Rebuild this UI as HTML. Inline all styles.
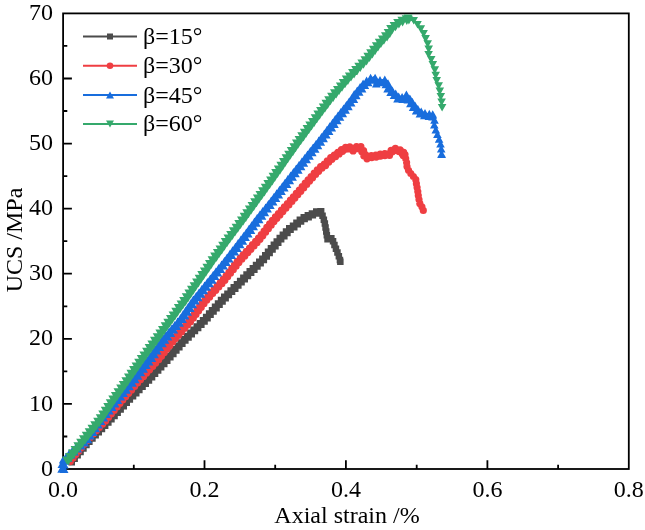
<!DOCTYPE html>
<html><head><meta charset="utf-8"><style>html,body{margin:0;padding:0;background:#fff;width:645px;height:530px;overflow:hidden}svg{display:block;filter:blur(0.4px)}</style></head>
<body>
<svg width="645" height="530" viewBox="0 0 645 530">
<rect width="645" height="530" fill="#fff"/>
<rect x="63.1" y="13.4" width="565.7" height="455.6" fill="none" stroke="#000" stroke-width="1.8"/>
<path d="M133.8 469v-4.2M204.5 469v-8.8M275.2 469v-4.2M345.9 469v-8.8M416.7 469v-4.2M487.4 469v-8.8M558.1 469v-4.2M63.1 436.5h4.2M63.1 403.9h8.8M63.1 371.4h4.2M63.1 338.8h8.8M63.1 306.3h4.2M63.1 273.7h8.8M63.1 241.2h4.2M63.1 208.7h8.8M63.1 176.1h4.2M63.1 143.6h8.8M63.1 111h4.2M63.1 78.5h8.8M63.1 45.9h4.2" stroke="#000" stroke-width="1.8" fill="none"/>
<polyline points="71,461.5 89.5,440 109.5,420 128,400 148,380 166.5,360 184.5,340 204.7,320 222.5,300 242.5,280 262.5,260 280,239.1 285,234 290,228.9 295,225.5 300,221 305,217.6 310,215.6 315,213.3 318.5,211.5 320.8,212.3 323.2,217.2 325.1,224.5 326.3,231.9 327.5,239.3 331.8,238 333.7,243 336.1,249.1 338.6,255.2 340.4,261.7" fill="none" stroke="#4b4b4b" stroke-width="2" stroke-linejoin="round"/>
<path d="M67 457.6h6.5v6.5h-6.5zM68.5 458.9h6.5v6.5h-6.5zM69.9 454.2h6.5v6.5h-6.5zM71.4 455.5h6.5v6.5h-6.5zM72.9 450.8h6.5v6.5h-6.5zM74.4 452.1h6.5v6.5h-6.5zM75.8 447.4h6.5v6.5h-6.5zM77.3 448.7h6.5v6.5h-6.5zM78.7 444h6.5v6.5h-6.5zM80.2 445.3h6.5v6.5h-6.5zM81.7 440.5h6.5v6.5h-6.5zM83.2 441.8h6.5v6.5h-6.5zM84.6 437.1h6.5v6.5h-6.5zM86.1 438.5h6.5v6.5h-6.5zM87.8 433.8h6.5v6.5h-6.5zM89.2 435.2h6.5v6.5h-6.5zM90.9 430.6h6.5v6.5h-6.5zM92.4 432.1h6.5v6.5h-6.5zM94.1 427.5h6.5v6.5h-6.5zM95.5 428.9h6.5v6.5h-6.5zM97.3 424.3h6.5v6.5h-6.5zM98.7 425.7h6.5v6.5h-6.5zM100.5 421.1h6.5v6.5h-6.5zM101.9 422.5h6.5v6.5h-6.5zM103.7 417.9h6.5v6.5h-6.5zM105.1 419.3h6.5v6.5h-6.5zM106.8 414.7h6.5v6.5h-6.5zM108.2 416.1h6.5v6.5h-6.5zM109.8 411.4h6.5v6.5h-6.5zM111.3 412.8h6.5v6.5h-6.5zM112.9 408.1h6.5v6.5h-6.5zM114.4 409.5h6.5v6.5h-6.5zM115.9 404.8h6.5v6.5h-6.5zM117.4 406.2h6.5v6.5h-6.5zM119 401.5h6.5v6.5h-6.5zM120.5 402.9h6.5v6.5h-6.5zM122.1 398.2h6.5v6.5h-6.5zM123.5 399.6h6.5v6.5h-6.5zM125.2 394.9h6.5v6.5h-6.5zM126.6 396.3h6.5v6.5h-6.5zM128.4 391.7h6.5v6.5h-6.5zM129.8 393.1h6.5v6.5h-6.5zM131.5 388.5h6.5v6.5h-6.5zM133 390h6.5v6.5h-6.5zM134.7 385.4h6.5v6.5h-6.5zM136.1 386.8h6.5v6.5h-6.5zM137.9 382.2h6.5v6.5h-6.5zM139.3 383.6h6.5v6.5h-6.5zM141.1 379h6.5v6.5h-6.5zM142.5 380.4h6.5v6.5h-6.5zM144.2 375.8h6.5v6.5h-6.5zM145.7 377.2h6.5v6.5h-6.5zM147.3 372.5h6.5v6.5h-6.5zM148.8 373.9h6.5v6.5h-6.5zM150.3 369.2h6.5v6.5h-6.5zM151.8 370.6h6.5v6.5h-6.5zM153.4 365.9h6.5v6.5h-6.5zM154.9 367.3h6.5v6.5h-6.5zM156.5 362.6h6.5v6.5h-6.5zM157.9 364h6.5v6.5h-6.5zM159.5 359.3h6.5v6.5h-6.5zM161 360.7h6.5v6.5h-6.5zM162.6 356h6.5v6.5h-6.5zM164 357.4h6.5v6.5h-6.5zM165.6 352.7h6.5v6.5h-6.5zM167.1 354h6.5v6.5h-6.5zM168.6 349.3h6.5v6.5h-6.5zM170.1 350.7h6.5v6.5h-6.5zM171.6 346h6.5v6.5h-6.5zM173.1 347.3h6.5v6.5h-6.5zM174.6 342.6h6.5v6.5h-6.5zM176.1 344h6.5v6.5h-6.5zM177.6 339.3h6.5v6.5h-6.5zM179.1 340.6h6.5v6.5h-6.5zM180.6 335.9h6.5v6.5h-6.5zM182.1 337.3h6.5v6.5h-6.5zM183.9 332.8h6.5v6.5h-6.5zM185.3 334.2h6.5v6.5h-6.5zM187.1 329.6h6.5v6.5h-6.5zM188.5 331h6.5v6.5h-6.5zM190.3 326.4h6.5v6.5h-6.5zM191.7 327.8h6.5v6.5h-6.5zM193.5 323.3h6.5v6.5h-6.5zM194.9 324.7h6.5v6.5h-6.5zM196.7 320.1h6.5v6.5h-6.5zM198.1 321.5h6.5v6.5h-6.5zM199.8 316.9h6.5v6.5h-6.5zM201.3 318.3h6.5v6.5h-6.5zM202.9 313.7h6.5v6.5h-6.5zM204.3 315h6.5v6.5h-6.5zM205.9 310.3h6.5v6.5h-6.5zM207.3 311.6h6.5v6.5h-6.5zM208.8 306.9h6.5v6.5h-6.5zM210.3 308.3h6.5v6.5h-6.5zM211.8 303.6h6.5v6.5h-6.5zM213.3 304.9h6.5v6.5h-6.5zM214.8 300.2h6.5v6.5h-6.5zM216.3 301.5h6.5v6.5h-6.5zM217.8 296.8h6.5v6.5h-6.5zM219.3 298.2h6.5v6.5h-6.5zM221 293.6h6.5v6.5h-6.5zM222.4 295h6.5v6.5h-6.5zM224.2 290.4h6.5v6.5h-6.5zM225.6 291.8h6.5v6.5h-6.5zM227.4 287.2h6.5v6.5h-6.5zM228.8 288.6h6.5v6.5h-6.5zM230.5 284h6.5v6.5h-6.5zM232 285.5h6.5v6.5h-6.5zM233.7 280.9h6.5v6.5h-6.5zM235.1 282.3h6.5v6.5h-6.5zM236.9 277.7h6.5v6.5h-6.5zM238.3 279.1h6.5v6.5h-6.5zM240.1 274.5h6.5v6.5h-6.5zM241.5 275.9h6.5v6.5h-6.5zM243.3 271.3h6.5v6.5h-6.5zM244.7 272.7h6.5v6.5h-6.5zM246.5 268.1h6.5v6.5h-6.5zM247.9 269.5h6.5v6.5h-6.5zM249.6 264.9h6.5v6.5h-6.5zM251.1 266.4h6.5v6.5h-6.5zM252.8 261.8h6.5v6.5h-6.5zM254.2 263.2h6.5v6.5h-6.5zM256 258.6h6.5v6.5h-6.5zM257.4 260h6.5v6.5h-6.5zM259.1 255.4h6.5v6.5h-6.5zM260.6 256.7h6.5v6.5h-6.5zM262 252h6.5v6.5h-6.5zM263.5 253.2h6.5v6.5h-6.5zM264.8 248.5h6.5v6.5h-6.5zM266.4 249.8h6.5v6.5h-6.5zM267.7 245.1h6.5v6.5h-6.5zM269.3 246.3h6.5v6.5h-6.5zM270.6 241.6h6.5v6.5h-6.5zM272.2 242.9h6.5v6.5h-6.5zM273.5 238.2h6.5v6.5h-6.5zM275 239.5h6.5v6.5h-6.5zM276.5 234.7h6.5v6.5h-6.5zM277.9 236.1h6.5v6.5h-6.5zM279.6 231.5h6.5v6.5h-6.5zM281.1 232.9h6.5v6.5h-6.5zM282.8 228.3h6.5v6.5h-6.5zM284.2 229.7h6.5v6.5h-6.5zM286 225h6.5v6.5h-6.5zM287.3 226.5h6.5v6.5h-6.5zM289.8 222.4h6.5v6.5h-6.5zM291 224h6.5v6.5h-6.5zM293.2 219.6h6.5v6.5h-6.5zM294.5 221.1h6.5v6.5h-6.5zM296.6 216.6h6.5v6.5h-6.5zM297.8 218.2h6.5v6.5h-6.5zM300.5 214h6.5v6.5h-6.5zM301.4 215.8h6.5v6.5h-6.5zM304.6 212.1h6.5v6.5h-6.5zM305.4 213.9h6.5v6.5h-6.5zM308.7 210.3h6.5v6.5h-6.5zM309.6 212.1h6.5v6.5h-6.5zM313 208.3h6.5v6.5h-6.5zM313.5 210.3h6.5v6.5h-6.5zM317.3 208h6.5v6.5h-6.5zM317.4 210h6.5v6.5h-6.5zM317.9 208.1h6.5v6.5h-6.5zM317.2 210h6.5v6.5h-6.5zM317.6 209.1h6.5v6.5h-6.5zM319.3 212.6h6.5v6.5h-6.5zM320.6 216.4h6.5v6.5h-6.5zM321.6 220.3h6.5v6.5h-6.5zM322.3 224.2h6.5v6.5h-6.5zM323 228.2h6.5v6.5h-6.5zM323.6 232.1h6.5v6.5h-6.5zM324.3 236h6.5v6.5h-6.5zM328.1 234.9h6.5v6.5h-6.5zM329.8 238h6.5v6.5h-6.5zM331.2 241.8h6.5v6.5h-6.5zM332.7 245.5h6.5v6.5h-6.5zM334.2 249.2h6.5v6.5h-6.5zM335.6 252.9h6.5v6.5h-6.5zM336.7 256.8h6.5v6.5h-6.5zM337.1 258.4h6.5v6.5h-6.5z" fill="#4b4b4b"/>
<polyline points="69.5,461 86.5,440 105,420 121.5,400 138.9,380 157.2,360 173,340 190.7,320 205.5,300 223.9,280 239.7,260 258.2,240 274,220 291.9,200 309.3,180 315.6,173 321,167.6 325,164.8 328.9,160.5 332.8,157.2 336.6,154.8 340.5,151.3 344.4,149.2 348.3,146.7 352.1,150.2 355.2,149.3 358.3,146.2 361.4,148.2 363.8,153.6 366.1,158.2 370,156.8 375.4,156.2 380.1,155.2 384,154.5 388.6,155.2 392.5,150 394.8,149 397.9,150.5 401.8,151.2 404.1,155.1 406.4,160.2 406.9,166.2 409,171.4 412.7,175.6 415.8,179.7 416.8,186 417.9,192.2 418.7,198.4 419.9,203.6 422.5,207.8 423.3,210.4" fill="none" stroke="#ef3e42" stroke-width="2" stroke-linejoin="round"/>
<path d="M65.1 460.4a3.6 3.6 0 1 0 7.2 0a3.6 3.6 0 1 0 -7.2 0zM66.7 461.6a3.6 3.6 0 1 0 7.2 0a3.6 3.6 0 1 0 -7.2 0zM68 456.9a3.6 3.6 0 1 0 7.2 0a3.6 3.6 0 1 0 -7.2 0zM69.5 458.1a3.6 3.6 0 1 0 7.2 0a3.6 3.6 0 1 0 -7.2 0zM70.8 453.4a3.6 3.6 0 1 0 7.2 0a3.6 3.6 0 1 0 -7.2 0zM72.3 454.6a3.6 3.6 0 1 0 7.2 0a3.6 3.6 0 1 0 -7.2 0zM73.6 449.9a3.6 3.6 0 1 0 7.2 0a3.6 3.6 0 1 0 -7.2 0zM75.2 451.1a3.6 3.6 0 1 0 7.2 0a3.6 3.6 0 1 0 -7.2 0zM76.4 446.4a3.6 3.6 0 1 0 7.2 0a3.6 3.6 0 1 0 -7.2 0zM78 447.6a3.6 3.6 0 1 0 7.2 0a3.6 3.6 0 1 0 -7.2 0zM79.3 442.9a3.6 3.6 0 1 0 7.2 0a3.6 3.6 0 1 0 -7.2 0zM80.8 444.1a3.6 3.6 0 1 0 7.2 0a3.6 3.6 0 1 0 -7.2 0zM82.1 439.4a3.6 3.6 0 1 0 7.2 0a3.6 3.6 0 1 0 -7.2 0zM83.6 440.7a3.6 3.6 0 1 0 7.2 0a3.6 3.6 0 1 0 -7.2 0zM85.2 436a3.6 3.6 0 1 0 7.2 0a3.6 3.6 0 1 0 -7.2 0zM86.7 437.4a3.6 3.6 0 1 0 7.2 0a3.6 3.6 0 1 0 -7.2 0zM88.3 432.7a3.6 3.6 0 1 0 7.2 0a3.6 3.6 0 1 0 -7.2 0zM89.7 434.1a3.6 3.6 0 1 0 7.2 0a3.6 3.6 0 1 0 -7.2 0zM91.3 429.4a3.6 3.6 0 1 0 7.2 0a3.6 3.6 0 1 0 -7.2 0zM92.8 430.8a3.6 3.6 0 1 0 7.2 0a3.6 3.6 0 1 0 -7.2 0zM94.4 426.1a3.6 3.6 0 1 0 7.2 0a3.6 3.6 0 1 0 -7.2 0zM95.8 427.5a3.6 3.6 0 1 0 7.2 0a3.6 3.6 0 1 0 -7.2 0zM97.4 422.8a3.6 3.6 0 1 0 7.2 0a3.6 3.6 0 1 0 -7.2 0zM98.9 424.2a3.6 3.6 0 1 0 7.2 0a3.6 3.6 0 1 0 -7.2 0zM100.5 419.5a3.6 3.6 0 1 0 7.2 0a3.6 3.6 0 1 0 -7.2 0zM102 420.9a3.6 3.6 0 1 0 7.2 0a3.6 3.6 0 1 0 -7.2 0zM103.3 416.1a3.6 3.6 0 1 0 7.2 0a3.6 3.6 0 1 0 -7.2 0zM104.9 417.4a3.6 3.6 0 1 0 7.2 0a3.6 3.6 0 1 0 -7.2 0zM106.2 412.6a3.6 3.6 0 1 0 7.2 0a3.6 3.6 0 1 0 -7.2 0zM107.7 413.9a3.6 3.6 0 1 0 7.2 0a3.6 3.6 0 1 0 -7.2 0zM109.1 409.2a3.6 3.6 0 1 0 7.2 0a3.6 3.6 0 1 0 -7.2 0zM110.6 410.4a3.6 3.6 0 1 0 7.2 0a3.6 3.6 0 1 0 -7.2 0zM111.9 405.7a3.6 3.6 0 1 0 7.2 0a3.6 3.6 0 1 0 -7.2 0zM113.5 407a3.6 3.6 0 1 0 7.2 0a3.6 3.6 0 1 0 -7.2 0zM114.8 402.2a3.6 3.6 0 1 0 7.2 0a3.6 3.6 0 1 0 -7.2 0zM116.3 403.5a3.6 3.6 0 1 0 7.2 0a3.6 3.6 0 1 0 -7.2 0zM117.7 398.7a3.6 3.6 0 1 0 7.2 0a3.6 3.6 0 1 0 -7.2 0zM119.2 400a3.6 3.6 0 1 0 7.2 0a3.6 3.6 0 1 0 -7.2 0zM120.6 395.3a3.6 3.6 0 1 0 7.2 0a3.6 3.6 0 1 0 -7.2 0zM122.1 396.7a3.6 3.6 0 1 0 7.2 0a3.6 3.6 0 1 0 -7.2 0zM123.6 391.9a3.6 3.6 0 1 0 7.2 0a3.6 3.6 0 1 0 -7.2 0zM125.1 393.3a3.6 3.6 0 1 0 7.2 0a3.6 3.6 0 1 0 -7.2 0zM126.5 388.5a3.6 3.6 0 1 0 7.2 0a3.6 3.6 0 1 0 -7.2 0zM128 389.9a3.6 3.6 0 1 0 7.2 0a3.6 3.6 0 1 0 -7.2 0zM129.5 385.2a3.6 3.6 0 1 0 7.2 0a3.6 3.6 0 1 0 -7.2 0zM131 386.5a3.6 3.6 0 1 0 7.2 0a3.6 3.6 0 1 0 -7.2 0zM132.4 381.8a3.6 3.6 0 1 0 7.2 0a3.6 3.6 0 1 0 -7.2 0zM134 383.1a3.6 3.6 0 1 0 7.2 0a3.6 3.6 0 1 0 -7.2 0zM135.4 378.4a3.6 3.6 0 1 0 7.2 0a3.6 3.6 0 1 0 -7.2 0zM136.9 379.7a3.6 3.6 0 1 0 7.2 0a3.6 3.6 0 1 0 -7.2 0zM138.5 375a3.6 3.6 0 1 0 7.2 0a3.6 3.6 0 1 0 -7.2 0zM140 376.4a3.6 3.6 0 1 0 7.2 0a3.6 3.6 0 1 0 -7.2 0zM141.5 371.7a3.6 3.6 0 1 0 7.2 0a3.6 3.6 0 1 0 -7.2 0zM143 373.1a3.6 3.6 0 1 0 7.2 0a3.6 3.6 0 1 0 -7.2 0zM144.6 368.4a3.6 3.6 0 1 0 7.2 0a3.6 3.6 0 1 0 -7.2 0zM146 369.8a3.6 3.6 0 1 0 7.2 0a3.6 3.6 0 1 0 -7.2 0zM147.6 365.1a3.6 3.6 0 1 0 7.2 0a3.6 3.6 0 1 0 -7.2 0zM149.1 366.4a3.6 3.6 0 1 0 7.2 0a3.6 3.6 0 1 0 -7.2 0zM150.6 361.8a3.6 3.6 0 1 0 7.2 0a3.6 3.6 0 1 0 -7.2 0zM152.1 363.1a3.6 3.6 0 1 0 7.2 0a3.6 3.6 0 1 0 -7.2 0zM153.6 358.4a3.6 3.6 0 1 0 7.2 0a3.6 3.6 0 1 0 -7.2 0zM155.1 359.7a3.6 3.6 0 1 0 7.2 0a3.6 3.6 0 1 0 -7.2 0zM156.3 354.9a3.6 3.6 0 1 0 7.2 0a3.6 3.6 0 1 0 -7.2 0zM157.9 356.2a3.6 3.6 0 1 0 7.2 0a3.6 3.6 0 1 0 -7.2 0zM159.1 351.4a3.6 3.6 0 1 0 7.2 0a3.6 3.6 0 1 0 -7.2 0zM160.7 352.6a3.6 3.6 0 1 0 7.2 0a3.6 3.6 0 1 0 -7.2 0zM161.9 347.9a3.6 3.6 0 1 0 7.2 0a3.6 3.6 0 1 0 -7.2 0zM163.5 349.1a3.6 3.6 0 1 0 7.2 0a3.6 3.6 0 1 0 -7.2 0zM164.7 344.3a3.6 3.6 0 1 0 7.2 0a3.6 3.6 0 1 0 -7.2 0zM166.3 345.6a3.6 3.6 0 1 0 7.2 0a3.6 3.6 0 1 0 -7.2 0zM167.5 340.8a3.6 3.6 0 1 0 7.2 0a3.6 3.6 0 1 0 -7.2 0zM169.1 342a3.6 3.6 0 1 0 7.2 0a3.6 3.6 0 1 0 -7.2 0zM170.4 337.3a3.6 3.6 0 1 0 7.2 0a3.6 3.6 0 1 0 -7.2 0zM171.9 338.6a3.6 3.6 0 1 0 7.2 0a3.6 3.6 0 1 0 -7.2 0zM173.4 333.9a3.6 3.6 0 1 0 7.2 0a3.6 3.6 0 1 0 -7.2 0zM174.9 335.3a3.6 3.6 0 1 0 7.2 0a3.6 3.6 0 1 0 -7.2 0zM176.4 330.6a3.6 3.6 0 1 0 7.2 0a3.6 3.6 0 1 0 -7.2 0zM177.9 331.9a3.6 3.6 0 1 0 7.2 0a3.6 3.6 0 1 0 -7.2 0zM179.4 327.2a3.6 3.6 0 1 0 7.2 0a3.6 3.6 0 1 0 -7.2 0zM180.9 328.5a3.6 3.6 0 1 0 7.2 0a3.6 3.6 0 1 0 -7.2 0zM182.4 323.8a3.6 3.6 0 1 0 7.2 0a3.6 3.6 0 1 0 -7.2 0zM183.9 325.2a3.6 3.6 0 1 0 7.2 0a3.6 3.6 0 1 0 -7.2 0zM185.3 320.5a3.6 3.6 0 1 0 7.2 0a3.6 3.6 0 1 0 -7.2 0zM186.9 321.8a3.6 3.6 0 1 0 7.2 0a3.6 3.6 0 1 0 -7.2 0zM188.1 317a3.6 3.6 0 1 0 7.2 0a3.6 3.6 0 1 0 -7.2 0zM189.7 318.2a3.6 3.6 0 1 0 7.2 0a3.6 3.6 0 1 0 -7.2 0zM190.8 313.4a3.6 3.6 0 1 0 7.2 0a3.6 3.6 0 1 0 -7.2 0zM192.4 314.6a3.6 3.6 0 1 0 7.2 0a3.6 3.6 0 1 0 -7.2 0zM193.4 309.8a3.6 3.6 0 1 0 7.2 0a3.6 3.6 0 1 0 -7.2 0zM195 311a3.6 3.6 0 1 0 7.2 0a3.6 3.6 0 1 0 -7.2 0zM196.1 306.1a3.6 3.6 0 1 0 7.2 0a3.6 3.6 0 1 0 -7.2 0zM197.7 307.3a3.6 3.6 0 1 0 7.2 0a3.6 3.6 0 1 0 -7.2 0zM198.8 302.5a3.6 3.6 0 1 0 7.2 0a3.6 3.6 0 1 0 -7.2 0zM200.4 303.7a3.6 3.6 0 1 0 7.2 0a3.6 3.6 0 1 0 -7.2 0zM201.6 298.9a3.6 3.6 0 1 0 7.2 0a3.6 3.6 0 1 0 -7.2 0zM203.1 300.2a3.6 3.6 0 1 0 7.2 0a3.6 3.6 0 1 0 -7.2 0zM204.6 295.6a3.6 3.6 0 1 0 7.2 0a3.6 3.6 0 1 0 -7.2 0zM206.1 296.9a3.6 3.6 0 1 0 7.2 0a3.6 3.6 0 1 0 -7.2 0zM207.7 292.2a3.6 3.6 0 1 0 7.2 0a3.6 3.6 0 1 0 -7.2 0zM209.1 293.6a3.6 3.6 0 1 0 7.2 0a3.6 3.6 0 1 0 -7.2 0zM210.7 288.9a3.6 3.6 0 1 0 7.2 0a3.6 3.6 0 1 0 -7.2 0zM212.2 290.3a3.6 3.6 0 1 0 7.2 0a3.6 3.6 0 1 0 -7.2 0zM213.8 285.6a3.6 3.6 0 1 0 7.2 0a3.6 3.6 0 1 0 -7.2 0zM215.2 287a3.6 3.6 0 1 0 7.2 0a3.6 3.6 0 1 0 -7.2 0zM216.8 282.3a3.6 3.6 0 1 0 7.2 0a3.6 3.6 0 1 0 -7.2 0zM218.3 283.7a3.6 3.6 0 1 0 7.2 0a3.6 3.6 0 1 0 -7.2 0zM219.8 279a3.6 3.6 0 1 0 7.2 0a3.6 3.6 0 1 0 -7.2 0zM221.3 280.3a3.6 3.6 0 1 0 7.2 0a3.6 3.6 0 1 0 -7.2 0zM222.6 275.5a3.6 3.6 0 1 0 7.2 0a3.6 3.6 0 1 0 -7.2 0zM224.1 276.7a3.6 3.6 0 1 0 7.2 0a3.6 3.6 0 1 0 -7.2 0zM225.4 272a3.6 3.6 0 1 0 7.2 0a3.6 3.6 0 1 0 -7.2 0zM226.9 273.2a3.6 3.6 0 1 0 7.2 0a3.6 3.6 0 1 0 -7.2 0zM228.2 268.4a3.6 3.6 0 1 0 7.2 0a3.6 3.6 0 1 0 -7.2 0zM229.7 269.7a3.6 3.6 0 1 0 7.2 0a3.6 3.6 0 1 0 -7.2 0zM230.9 264.9a3.6 3.6 0 1 0 7.2 0a3.6 3.6 0 1 0 -7.2 0zM232.5 266.2a3.6 3.6 0 1 0 7.2 0a3.6 3.6 0 1 0 -7.2 0zM233.7 261.4a3.6 3.6 0 1 0 7.2 0a3.6 3.6 0 1 0 -7.2 0zM235.3 262.6a3.6 3.6 0 1 0 7.2 0a3.6 3.6 0 1 0 -7.2 0zM236.7 257.9a3.6 3.6 0 1 0 7.2 0a3.6 3.6 0 1 0 -7.2 0zM238.2 259.2a3.6 3.6 0 1 0 7.2 0a3.6 3.6 0 1 0 -7.2 0zM239.7 254.6a3.6 3.6 0 1 0 7.2 0a3.6 3.6 0 1 0 -7.2 0zM241.2 255.9a3.6 3.6 0 1 0 7.2 0a3.6 3.6 0 1 0 -7.2 0zM242.8 251.3a3.6 3.6 0 1 0 7.2 0a3.6 3.6 0 1 0 -7.2 0zM244.3 252.6a3.6 3.6 0 1 0 7.2 0a3.6 3.6 0 1 0 -7.2 0zM245.9 248a3.6 3.6 0 1 0 7.2 0a3.6 3.6 0 1 0 -7.2 0zM247.3 249.3a3.6 3.6 0 1 0 7.2 0a3.6 3.6 0 1 0 -7.2 0zM248.9 244.7a3.6 3.6 0 1 0 7.2 0a3.6 3.6 0 1 0 -7.2 0zM250.4 246a3.6 3.6 0 1 0 7.2 0a3.6 3.6 0 1 0 -7.2 0zM252 241.4a3.6 3.6 0 1 0 7.2 0a3.6 3.6 0 1 0 -7.2 0zM253.4 242.7a3.6 3.6 0 1 0 7.2 0a3.6 3.6 0 1 0 -7.2 0zM254.9 238a3.6 3.6 0 1 0 7.2 0a3.6 3.6 0 1 0 -7.2 0zM256.4 239.3a3.6 3.6 0 1 0 7.2 0a3.6 3.6 0 1 0 -7.2 0zM257.7 234.5a3.6 3.6 0 1 0 7.2 0a3.6 3.6 0 1 0 -7.2 0zM259.2 235.8a3.6 3.6 0 1 0 7.2 0a3.6 3.6 0 1 0 -7.2 0zM260.5 231a3.6 3.6 0 1 0 7.2 0a3.6 3.6 0 1 0 -7.2 0zM262 232.2a3.6 3.6 0 1 0 7.2 0a3.6 3.6 0 1 0 -7.2 0zM263.2 227.4a3.6 3.6 0 1 0 7.2 0a3.6 3.6 0 1 0 -7.2 0zM264.8 228.7a3.6 3.6 0 1 0 7.2 0a3.6 3.6 0 1 0 -7.2 0zM266 223.9a3.6 3.6 0 1 0 7.2 0a3.6 3.6 0 1 0 -7.2 0zM267.6 225.2a3.6 3.6 0 1 0 7.2 0a3.6 3.6 0 1 0 -7.2 0zM268.8 220.4a3.6 3.6 0 1 0 7.2 0a3.6 3.6 0 1 0 -7.2 0zM270.4 221.6a3.6 3.6 0 1 0 7.2 0a3.6 3.6 0 1 0 -7.2 0zM271.8 216.9a3.6 3.6 0 1 0 7.2 0a3.6 3.6 0 1 0 -7.2 0zM273.3 218.3a3.6 3.6 0 1 0 7.2 0a3.6 3.6 0 1 0 -7.2 0zM274.8 213.6a3.6 3.6 0 1 0 7.2 0a3.6 3.6 0 1 0 -7.2 0zM276.3 214.9a3.6 3.6 0 1 0 7.2 0a3.6 3.6 0 1 0 -7.2 0zM277.8 210.2a3.6 3.6 0 1 0 7.2 0a3.6 3.6 0 1 0 -7.2 0zM279.3 211.6a3.6 3.6 0 1 0 7.2 0a3.6 3.6 0 1 0 -7.2 0zM280.8 206.9a3.6 3.6 0 1 0 7.2 0a3.6 3.6 0 1 0 -7.2 0zM282.3 208.2a3.6 3.6 0 1 0 7.2 0a3.6 3.6 0 1 0 -7.2 0zM283.8 203.5a3.6 3.6 0 1 0 7.2 0a3.6 3.6 0 1 0 -7.2 0zM285.3 204.9a3.6 3.6 0 1 0 7.2 0a3.6 3.6 0 1 0 -7.2 0zM286.8 200.2a3.6 3.6 0 1 0 7.2 0a3.6 3.6 0 1 0 -7.2 0zM288.3 201.5a3.6 3.6 0 1 0 7.2 0a3.6 3.6 0 1 0 -7.2 0zM289.8 196.8a3.6 3.6 0 1 0 7.2 0a3.6 3.6 0 1 0 -7.2 0zM291.3 198.1a3.6 3.6 0 1 0 7.2 0a3.6 3.6 0 1 0 -7.2 0zM292.7 193.4a3.6 3.6 0 1 0 7.2 0a3.6 3.6 0 1 0 -7.2 0zM294.2 194.7a3.6 3.6 0 1 0 7.2 0a3.6 3.6 0 1 0 -7.2 0zM295.7 190a3.6 3.6 0 1 0 7.2 0a3.6 3.6 0 1 0 -7.2 0zM297.2 191.3a3.6 3.6 0 1 0 7.2 0a3.6 3.6 0 1 0 -7.2 0zM298.6 186.6a3.6 3.6 0 1 0 7.2 0a3.6 3.6 0 1 0 -7.2 0zM300.1 187.9a3.6 3.6 0 1 0 7.2 0a3.6 3.6 0 1 0 -7.2 0zM301.6 183.2a3.6 3.6 0 1 0 7.2 0a3.6 3.6 0 1 0 -7.2 0zM303.1 184.5a3.6 3.6 0 1 0 7.2 0a3.6 3.6 0 1 0 -7.2 0zM304.5 179.8a3.6 3.6 0 1 0 7.2 0a3.6 3.6 0 1 0 -7.2 0zM306 181.1a3.6 3.6 0 1 0 7.2 0a3.6 3.6 0 1 0 -7.2 0zM307.5 176.5a3.6 3.6 0 1 0 7.2 0a3.6 3.6 0 1 0 -7.2 0zM309 177.8a3.6 3.6 0 1 0 7.2 0a3.6 3.6 0 1 0 -7.2 0zM310.6 173.1a3.6 3.6 0 1 0 7.2 0a3.6 3.6 0 1 0 -7.2 0zM312 174.5a3.6 3.6 0 1 0 7.2 0a3.6 3.6 0 1 0 -7.2 0zM313.7 169.9a3.6 3.6 0 1 0 7.2 0a3.6 3.6 0 1 0 -7.2 0zM315.1 171.3a3.6 3.6 0 1 0 7.2 0a3.6 3.6 0 1 0 -7.2 0zM317 166.7a3.6 3.6 0 1 0 7.2 0a3.6 3.6 0 1 0 -7.2 0zM318.3 168.2a3.6 3.6 0 1 0 7.2 0a3.6 3.6 0 1 0 -7.2 0zM320.7 164.1a3.6 3.6 0 1 0 7.2 0a3.6 3.6 0 1 0 -7.2 0zM322 165.6a3.6 3.6 0 1 0 7.2 0a3.6 3.6 0 1 0 -7.2 0zM323.7 160.8a3.6 3.6 0 1 0 7.2 0a3.6 3.6 0 1 0 -7.2 0zM325.1 162.2a3.6 3.6 0 1 0 7.2 0a3.6 3.6 0 1 0 -7.2 0zM327.1 157.7a3.6 3.6 0 1 0 7.2 0a3.6 3.6 0 1 0 -7.2 0zM328.3 159.3a3.6 3.6 0 1 0 7.2 0a3.6 3.6 0 1 0 -7.2 0zM330.7 155.1a3.6 3.6 0 1 0 7.2 0a3.6 3.6 0 1 0 -7.2 0zM331.9 156.7a3.6 3.6 0 1 0 7.2 0a3.6 3.6 0 1 0 -7.2 0zM334.3 152.3a3.6 3.6 0 1 0 7.2 0a3.6 3.6 0 1 0 -7.2 0zM335.5 153.9a3.6 3.6 0 1 0 7.2 0a3.6 3.6 0 1 0 -7.2 0zM337.9 149.6a3.6 3.6 0 1 0 7.2 0a3.6 3.6 0 1 0 -7.2 0zM339 151.3a3.6 3.6 0 1 0 7.2 0a3.6 3.6 0 1 0 -7.2 0zM342 147.3a3.6 3.6 0 1 0 7.2 0a3.6 3.6 0 1 0 -7.2 0zM342.7 149.1a3.6 3.6 0 1 0 7.2 0a3.6 3.6 0 1 0 -7.2 0zM346.2 146.9a3.6 3.6 0 1 0 7.2 0a3.6 3.6 0 1 0 -7.2 0zM345.7 148.8a3.6 3.6 0 1 0 7.2 0a3.6 3.6 0 1 0 -7.2 0zM349.5 148.9a3.6 3.6 0 1 0 7.2 0a3.6 3.6 0 1 0 -7.2 0zM349.5 150.9a3.6 3.6 0 1 0 7.2 0a3.6 3.6 0 1 0 -7.2 0zM352.9 146.7a3.6 3.6 0 1 0 7.2 0a3.6 3.6 0 1 0 -7.2 0zM353.6 148.6a3.6 3.6 0 1 0 7.2 0a3.6 3.6 0 1 0 -7.2 0zM357.3 146.7a3.6 3.6 0 1 0 7.2 0a3.6 3.6 0 1 0 -7.2 0zM356.2 148.4a3.6 3.6 0 1 0 7.2 0a3.6 3.6 0 1 0 -7.2 0zM360 150.7a3.6 3.6 0 1 0 7.2 0a3.6 3.6 0 1 0 -7.2 0zM358.2 151.7a3.6 3.6 0 1 0 7.2 0a3.6 3.6 0 1 0 -7.2 0zM361.9 154.7a3.6 3.6 0 1 0 7.2 0a3.6 3.6 0 1 0 -7.2 0zM360.2 155.8a3.6 3.6 0 1 0 7.2 0a3.6 3.6 0 1 0 -7.2 0zM363.8 156.8a3.6 3.6 0 1 0 7.2 0a3.6 3.6 0 1 0 -7.2 0zM363.4 158.8a3.6 3.6 0 1 0 7.2 0a3.6 3.6 0 1 0 -7.2 0zM367.8 155.6a3.6 3.6 0 1 0 7.2 0a3.6 3.6 0 1 0 -7.2 0zM368.1 157.6a3.6 3.6 0 1 0 7.2 0a3.6 3.6 0 1 0 -7.2 0zM372.2 155.1a3.6 3.6 0 1 0 7.2 0a3.6 3.6 0 1 0 -7.2 0zM372.6 157.1a3.6 3.6 0 1 0 7.2 0a3.6 3.6 0 1 0 -7.2 0zM376.7 154.2a3.6 3.6 0 1 0 7.2 0a3.6 3.6 0 1 0 -7.2 0zM377 156.1a3.6 3.6 0 1 0 7.2 0a3.6 3.6 0 1 0 -7.2 0zM381.2 153.6a3.6 3.6 0 1 0 7.2 0a3.6 3.6 0 1 0 -7.2 0zM381.3 155.6a3.6 3.6 0 1 0 7.2 0a3.6 3.6 0 1 0 -7.2 0zM385 153.8a3.6 3.6 0 1 0 7.2 0a3.6 3.6 0 1 0 -7.2 0zM385.9 155.5a3.6 3.6 0 1 0 7.2 0a3.6 3.6 0 1 0 -7.2 0zM387.5 150.3a3.6 3.6 0 1 0 7.2 0a3.6 3.6 0 1 0 -7.2 0zM388.8 151.8a3.6 3.6 0 1 0 7.2 0a3.6 3.6 0 1 0 -7.2 0zM391.8 148.3a3.6 3.6 0 1 0 7.2 0a3.6 3.6 0 1 0 -7.2 0zM391.9 150.3a3.6 3.6 0 1 0 7.2 0a3.6 3.6 0 1 0 -7.2 0zM396.5 149.9a3.6 3.6 0 1 0 7.2 0a3.6 3.6 0 1 0 -7.2 0zM395.6 151.7a3.6 3.6 0 1 0 7.2 0a3.6 3.6 0 1 0 -7.2 0zM400.1 152.4a3.6 3.6 0 1 0 7.2 0a3.6 3.6 0 1 0 -7.2 0zM398.7 153.9a3.6 3.6 0 1 0 7.2 0a3.6 3.6 0 1 0 -7.2 0zM401.4 154.6a3.6 3.6 0 1 0 7.2 0a3.6 3.6 0 1 0 -7.2 0zM399.6 155.6a3.6 3.6 0 1 0 7.2 0a3.6 3.6 0 1 0 -7.2 0zM400.5 155.1a3.6 3.6 0 1 0 7.2 0a3.6 3.6 0 1 0 -7.2 0zM402.1 158.7a3.6 3.6 0 1 0 7.2 0a3.6 3.6 0 1 0 -7.2 0zM403 162.6a3.6 3.6 0 1 0 7.2 0a3.6 3.6 0 1 0 -7.2 0zM403.4 166.6a3.6 3.6 0 1 0 7.2 0a3.6 3.6 0 1 0 -7.2 0zM404.9 170.3a3.6 3.6 0 1 0 7.2 0a3.6 3.6 0 1 0 -7.2 0zM407.2 173.5a3.6 3.6 0 1 0 7.2 0a3.6 3.6 0 1 0 -7.2 0zM409.8 176.5a3.6 3.6 0 1 0 7.2 0a3.6 3.6 0 1 0 -7.2 0zM412.2 179.7a3.6 3.6 0 1 0 7.2 0a3.6 3.6 0 1 0 -7.2 0zM412.8 183.7a3.6 3.6 0 1 0 7.2 0a3.6 3.6 0 1 0 -7.2 0zM413.5 187.6a3.6 3.6 0 1 0 7.2 0a3.6 3.6 0 1 0 -7.2 0zM414.2 191.6a3.6 3.6 0 1 0 7.2 0a3.6 3.6 0 1 0 -7.2 0zM414.7 195.5a3.6 3.6 0 1 0 7.2 0a3.6 3.6 0 1 0 -7.2 0zM415.4 199.5a3.6 3.6 0 1 0 7.2 0a3.6 3.6 0 1 0 -7.2 0zM416.2 203.4a3.6 3.6 0 1 0 7.2 0a3.6 3.6 0 1 0 -7.2 0zM418.3 206.8a3.6 3.6 0 1 0 7.2 0a3.6 3.6 0 1 0 -7.2 0zM419.7 210.4a3.6 3.6 0 1 0 7.2 0a3.6 3.6 0 1 0 -7.2 0z" fill="#ef3e42"/>
<polyline points="62.9,469 63.2,461.5 72,452 86,440 100.2,420 116.3,400 133.3,380 149,360 163.4,340 180.5,320 194.4,300 210.5,280 226.6,260 242,240 257,220 273,200 288.6,180 304.6,160 320.7,140 336,120 351.8,100 355,95 359.7,89.4 364.3,84 369,80 373.6,77.3 377.3,83.2 382,80 385.7,81 389.4,89.5 394,93.5 398.7,98 402.5,98 406.3,95.5 410.1,100.8 413.9,106 417.6,110.6 421.3,112.9 425,114.3 429,114.9 432.6,115.3 434.5,119.5 434,124 435.5,128.5 437,133.2 439,138.5 440.5,143.5 441.2,148.5 441.6,154.2" fill="none" stroke="#186ddd" stroke-width="2" stroke-linejoin="round"/>
<path d="M57.3 472.7l4.3 -7.6l4.3 7.6zM59.9 472.9l4.3 -7.6l4.3 7.6zM57.5 468.1l4.3 -7.6l4.3 7.6zM60.1 468.5l4.3 -7.6l4.3 7.6zM58.8 463.6l4.3 -7.6l4.3 7.6zM61 464.8l4.3 -7.6l4.3 7.6zM62 460l4.3 -7.6l4.3 7.6zM63.9 461.8l4.3 -7.6l4.3 7.6zM65.1 456.7l4.3 -7.6l4.3 7.6zM67 458.5l4.3 -7.6l4.3 7.6zM68.4 453.5l4.3 -7.6l4.3 7.6zM70.1 455.4l4.3 -7.6l4.3 7.6zM71.8 450.6l4.3 -7.6l4.3 7.6zM73.5 452.5l4.3 -7.6l4.3 7.6zM75.2 447.6l4.3 -7.6l4.3 7.6zM76.9 449.6l4.3 -7.6l4.3 7.6zM78.6 444.7l4.3 -7.6l4.3 7.6zM80.4 446.6l4.3 -7.6l4.3 7.6zM81.6 441.7l4.3 -7.6l4.3 7.6zM83.6 443.3l4.3 -7.6l4.3 7.6zM84.2 438.1l4.3 -7.6l4.3 7.6zM86.3 439.6l4.3 -7.6l4.3 7.6zM86.8 434.4l4.3 -7.6l4.3 7.6zM88.9 435.9l4.3 -7.6l4.3 7.6zM89.4 430.7l4.3 -7.6l4.3 7.6zM91.5 432.2l4.3 -7.6l4.3 7.6zM92 427.1l4.3 -7.6l4.3 7.6zM94.1 428.6l4.3 -7.6l4.3 7.6zM94.6 423.4l4.3 -7.6l4.3 7.6zM96.7 424.9l4.3 -7.6l4.3 7.6zM97.4 419.8l4.3 -7.6l4.3 7.6zM99.5 421.4l4.3 -7.6l4.3 7.6zM100.3 416.3l4.3 -7.6l4.3 7.6zM102.3 417.9l4.3 -7.6l4.3 7.6zM103.1 412.8l4.3 -7.6l4.3 7.6zM105.1 414.4l4.3 -7.6l4.3 7.6zM105.9 409.3l4.3 -7.6l4.3 7.6zM107.9 410.9l4.3 -7.6l4.3 7.6zM108.7 405.8l4.3 -7.6l4.3 7.6zM110.8 407.4l4.3 -7.6l4.3 7.6zM111.6 402.3l4.3 -7.6l4.3 7.6zM113.6 403.9l4.3 -7.6l4.3 7.6zM114.5 398.8l4.3 -7.6l4.3 7.6zM116.5 400.5l4.3 -7.6l4.3 7.6zM117.4 395.4l4.3 -7.6l4.3 7.6zM119.4 397.1l4.3 -7.6l4.3 7.6zM120.3 392l4.3 -7.6l4.3 7.6zM122.3 393.7l4.3 -7.6l4.3 7.6zM123.3 388.6l4.3 -7.6l4.3 7.6zM125.2 390.2l4.3 -7.6l4.3 7.6zM126.2 385.1l4.3 -7.6l4.3 7.6zM128.2 386.8l4.3 -7.6l4.3 7.6zM129 381.7l4.3 -7.6l4.3 7.6zM131 383.3l4.3 -7.6l4.3 7.6zM131.8 378.2l4.3 -7.6l4.3 7.6zM133.8 379.8l4.3 -7.6l4.3 7.6zM134.6 374.6l4.3 -7.6l4.3 7.6zM136.6 376.2l4.3 -7.6l4.3 7.6zM137.3 371.1l4.3 -7.6l4.3 7.6zM139.4 372.7l4.3 -7.6l4.3 7.6zM140.1 367.5l4.3 -7.6l4.3 7.6zM142.2 369.1l4.3 -7.6l4.3 7.6zM142.9 364l4.3 -7.6l4.3 7.6zM144.9 365.6l4.3 -7.6l4.3 7.6zM145.5 360.4l4.3 -7.6l4.3 7.6zM147.6 361.9l4.3 -7.6l4.3 7.6zM148.2 356.8l4.3 -7.6l4.3 7.6zM150.3 358.3l4.3 -7.6l4.3 7.6zM150.8 353.1l4.3 -7.6l4.3 7.6zM152.9 354.6l4.3 -7.6l4.3 7.6zM153.4 349.5l4.3 -7.6l4.3 7.6zM155.5 351l4.3 -7.6l4.3 7.6zM156.1 345.8l4.3 -7.6l4.3 7.6zM158.2 347.3l4.3 -7.6l4.3 7.6zM158.8 342.2l4.3 -7.6l4.3 7.6zM160.8 343.8l4.3 -7.6l4.3 7.6zM161.7 338.7l4.3 -7.6l4.3 7.6zM163.7 340.4l4.3 -7.6l4.3 7.6zM164.7 335.3l4.3 -7.6l4.3 7.6zM166.6 337l4.3 -7.6l4.3 7.6zM167.6 331.9l4.3 -7.6l4.3 7.6zM169.6 333.6l4.3 -7.6l4.3 7.6zM170.5 328.5l4.3 -7.6l4.3 7.6zM172.5 330.1l4.3 -7.6l4.3 7.6zM173.4 325.1l4.3 -7.6l4.3 7.6zM175.4 326.7l4.3 -7.6l4.3 7.6zM176.2 321.6l4.3 -7.6l4.3 7.6zM178.3 323.1l4.3 -7.6l4.3 7.6zM178.7 317.9l4.3 -7.6l4.3 7.6zM180.8 319.4l4.3 -7.6l4.3 7.6zM181.3 314.2l4.3 -7.6l4.3 7.6zM183.4 315.7l4.3 -7.6l4.3 7.6zM183.8 310.5l4.3 -7.6l4.3 7.6zM186 312l4.3 -7.6l4.3 7.6zM186.4 306.8l4.3 -7.6l4.3 7.6zM188.5 308.3l4.3 -7.6l4.3 7.6zM189 303.1l4.3 -7.6l4.3 7.6zM191.1 304.6l4.3 -7.6l4.3 7.6zM191.9 299.5l4.3 -7.6l4.3 7.6zM193.9 301.2l4.3 -7.6l4.3 7.6zM194.7 296l4.3 -7.6l4.3 7.6zM196.7 297.7l4.3 -7.6l4.3 7.6zM197.5 292.5l4.3 -7.6l4.3 7.6zM199.5 294.2l4.3 -7.6l4.3 7.6zM200.3 289l4.3 -7.6l4.3 7.6zM202.3 290.7l4.3 -7.6l4.3 7.6zM203.1 285.5l4.3 -7.6l4.3 7.6zM205.2 287.2l4.3 -7.6l4.3 7.6zM206 282l4.3 -7.6l4.3 7.6zM208 283.7l4.3 -7.6l4.3 7.6zM208.8 278.5l4.3 -7.6l4.3 7.6zM210.8 280.1l4.3 -7.6l4.3 7.6zM211.6 275l4.3 -7.6l4.3 7.6zM213.6 276.6l4.3 -7.6l4.3 7.6zM214.4 271.5l4.3 -7.6l4.3 7.6zM216.5 273.1l4.3 -7.6l4.3 7.6zM217.3 268l4.3 -7.6l4.3 7.6zM219.3 269.6l4.3 -7.6l4.3 7.6zM220.1 264.5l4.3 -7.6l4.3 7.6zM222.1 266.1l4.3 -7.6l4.3 7.6zM222.8 261l4.3 -7.6l4.3 7.6zM224.9 262.6l4.3 -7.6l4.3 7.6zM225.6 257.4l4.3 -7.6l4.3 7.6zM227.6 259l4.3 -7.6l4.3 7.6zM228.3 253.8l4.3 -7.6l4.3 7.6zM230.4 255.4l4.3 -7.6l4.3 7.6zM231.1 250.3l4.3 -7.6l4.3 7.6zM233.1 251.9l4.3 -7.6l4.3 7.6zM233.8 246.7l4.3 -7.6l4.3 7.6zM235.9 248.3l4.3 -7.6l4.3 7.6zM236.6 243.2l4.3 -7.6l4.3 7.6zM238.6 244.7l4.3 -7.6l4.3 7.6zM239.3 239.6l4.3 -7.6l4.3 7.6zM241.3 241.1l4.3 -7.6l4.3 7.6zM242 236l4.3 -7.6l4.3 7.6zM244 237.5l4.3 -7.6l4.3 7.6zM244.7 232.4l4.3 -7.6l4.3 7.6zM246.7 233.9l4.3 -7.6l4.3 7.6zM247.4 228.8l4.3 -7.6l4.3 7.6zM249.4 230.3l4.3 -7.6l4.3 7.6zM250.1 225.2l4.3 -7.6l4.3 7.6zM252.1 226.7l4.3 -7.6l4.3 7.6zM252.8 221.6l4.3 -7.6l4.3 7.6zM254.9 223.2l4.3 -7.6l4.3 7.6zM255.6 218.1l4.3 -7.6l4.3 7.6zM257.7 219.7l4.3 -7.6l4.3 7.6zM258.4 214.5l4.3 -7.6l4.3 7.6zM260.5 216.2l4.3 -7.6l4.3 7.6zM261.3 211l4.3 -7.6l4.3 7.6zM263.3 212.6l4.3 -7.6l4.3 7.6zM264.1 207.5l4.3 -7.6l4.3 7.6zM266.1 209.1l4.3 -7.6l4.3 7.6zM266.9 204l4.3 -7.6l4.3 7.6zM268.9 205.6l4.3 -7.6l4.3 7.6zM269.6 200.5l4.3 -7.6l4.3 7.6zM271.7 202.1l4.3 -7.6l4.3 7.6zM272.4 196.9l4.3 -7.6l4.3 7.6zM274.5 198.5l4.3 -7.6l4.3 7.6zM275.2 193.4l4.3 -7.6l4.3 7.6zM277.2 195l4.3 -7.6l4.3 7.6zM278 189.8l4.3 -7.6l4.3 7.6zM280 191.4l4.3 -7.6l4.3 7.6zM280.7 186.3l4.3 -7.6l4.3 7.6zM282.8 187.9l4.3 -7.6l4.3 7.6zM283.5 182.7l4.3 -7.6l4.3 7.6zM285.5 184.3l4.3 -7.6l4.3 7.6zM286.3 179.2l4.3 -7.6l4.3 7.6zM288.3 180.8l4.3 -7.6l4.3 7.6zM289.1 175.7l4.3 -7.6l4.3 7.6zM291.2 177.3l4.3 -7.6l4.3 7.6zM291.9 172.2l4.3 -7.6l4.3 7.6zM294 173.8l4.3 -7.6l4.3 7.6zM294.7 168.7l4.3 -7.6l4.3 7.6zM296.8 170.3l4.3 -7.6l4.3 7.6zM297.6 165.1l4.3 -7.6l4.3 7.6zM299.6 166.8l4.3 -7.6l4.3 7.6zM300.4 161.6l4.3 -7.6l4.3 7.6zM302.4 163.3l4.3 -7.6l4.3 7.6zM303.2 158.1l4.3 -7.6l4.3 7.6zM305.2 159.8l4.3 -7.6l4.3 7.6zM306 154.6l4.3 -7.6l4.3 7.6zM308 156.3l4.3 -7.6l4.3 7.6zM308.8 151.1l4.3 -7.6l4.3 7.6zM310.9 152.8l4.3 -7.6l4.3 7.6zM311.7 147.6l4.3 -7.6l4.3 7.6zM313.7 149.2l4.3 -7.6l4.3 7.6zM314.5 144.1l4.3 -7.6l4.3 7.6zM316.5 145.7l4.3 -7.6l4.3 7.6zM317.2 140.6l4.3 -7.6l4.3 7.6zM319.3 142.2l4.3 -7.6l4.3 7.6zM320 137l4.3 -7.6l4.3 7.6zM322 138.6l4.3 -7.6l4.3 7.6zM322.7 133.4l4.3 -7.6l4.3 7.6zM324.8 135l4.3 -7.6l4.3 7.6zM325.4 129.9l4.3 -7.6l4.3 7.6zM327.5 131.4l4.3 -7.6l4.3 7.6zM328.2 126.3l4.3 -7.6l4.3 7.6zM330.2 127.9l4.3 -7.6l4.3 7.6zM330.9 122.7l4.3 -7.6l4.3 7.6zM333 124.3l4.3 -7.6l4.3 7.6zM333.7 119.2l4.3 -7.6l4.3 7.6zM335.7 120.8l4.3 -7.6l4.3 7.6zM336.5 115.6l4.3 -7.6l4.3 7.6zM338.5 117.2l4.3 -7.6l4.3 7.6zM339.3 112.1l4.3 -7.6l4.3 7.6zM341.3 113.7l4.3 -7.6l4.3 7.6zM342.1 108.6l4.3 -7.6l4.3 7.6zM344.1 110.2l4.3 -7.6l4.3 7.6zM344.8 105.1l4.3 -7.6l4.3 7.6zM346.9 106.6l4.3 -7.6l4.3 7.6zM347.4 101.5l4.3 -7.6l4.3 7.6zM349.6 102.9l4.3 -7.6l4.3 7.6zM349.9 97.7l4.3 -7.6l4.3 7.6zM352 99.2l4.3 -7.6l4.3 7.6zM352.9 94.2l4.3 -7.6l4.3 7.6zM354.9 95.8l4.3 -7.6l4.3 7.6zM355.8 90.7l4.3 -7.6l4.3 7.6zM357.8 92.4l4.3 -7.6l4.3 7.6zM358.8 87.2l4.3 -7.6l4.3 7.6zM360.6 89.1l4.3 -7.6l4.3 7.6zM362.3 84.2l4.3 -7.6l4.3 7.6zM363.9 86.2l4.3 -7.6l4.3 7.6zM366.3 81.4l4.3 -7.6l4.3 7.6zM367.2 83.8l4.3 -7.6l4.3 7.6zM370.8 81.3l4.3 -7.6l4.3 7.6zM369.4 83.5l4.3 -7.6l4.3 7.6zM373 85l4.3 -7.6l4.3 7.6zM372 87.4l4.3 -7.6l4.3 7.6zM375.7 83.7l4.3 -7.6l4.3 7.6zM376.3 86.3l4.3 -7.6l4.3 7.6zM380.5 83.2l4.3 -7.6l4.3 7.6zM379.5 85.6l4.3 -7.6l4.3 7.6zM383.7 86.9l4.3 -7.6l4.3 7.6zM381.5 88.3l4.3 -7.6l4.3 7.6zM385.5 91.1l4.3 -7.6l4.3 7.6zM383.3 92.4l4.3 -7.6l4.3 7.6zM388.1 94.2l4.3 -7.6l4.3 7.6zM386.3 96l4.3 -7.6l4.3 7.6zM391.4 97.2l4.3 -7.6l4.3 7.6zM389.7 99.1l4.3 -7.6l4.3 7.6zM394.4 100.1l4.3 -7.6l4.3 7.6zM393.2 102.4l4.3 -7.6l4.3 7.6zM397.8 100.5l4.3 -7.6l4.3 7.6zM398.4 103.1l4.3 -7.6l4.3 7.6zM402.1 98.1l4.3 -7.6l4.3 7.6zM401.7 100.7l4.3 -7.6l4.3 7.6zM405.6 102l4.3 -7.6l4.3 7.6zM403.5 103.6l4.3 -7.6l4.3 7.6zM408.2 105.7l4.3 -7.6l4.3 7.6zM406.1 107.2l4.3 -7.6l4.3 7.6zM410.9 109.3l4.3 -7.6l4.3 7.6zM408.8 110.9l4.3 -7.6l4.3 7.6zM413.6 112.7l4.3 -7.6l4.3 7.6zM411.8 114.5l4.3 -7.6l4.3 7.6zM416.9 115.1l4.3 -7.6l4.3 7.6zM415.6 117.4l4.3 -7.6l4.3 7.6zM420.7 116.7l4.3 -7.6l4.3 7.6zM420 119.2l4.3 -7.6l4.3 7.6zM425 117.4l4.3 -7.6l4.3 7.6zM424.6 120l4.3 -7.6l4.3 7.6zM428.4 117.8l4.3 -7.6l4.3 7.6zM428.2 120.4l4.3 -7.6l4.3 7.6zM428.3 119.1l4.3 -7.6l4.3 7.6zM430.2 123.7l4.3 -7.6l4.3 7.6zM430 128.6l4.3 -7.6l4.3 7.6zM431.5 133.4l4.3 -7.6l4.3 7.6zM433.1 138.1l4.3 -7.6l4.3 7.6zM434.8 142.8l4.3 -7.6l4.3 7.6zM436.2 147.6l4.3 -7.6l4.3 7.6zM436.9 152.6l4.3 -7.6l4.3 7.6zM437.3 157.5l4.3 -7.6l4.3 7.6zM437.3 158l4.3 -7.6l4.3 7.6z" fill="#186ddd"/>
<polyline points="67.5,461 84.1,440 100.3,420 113.6,400 127.9,380 141.7,360 156.3,340 170.9,320 185.5,300 199.5,280 213.4,260 228,240 243,220 257.5,200 272,180 286,160 300.2,140 315,120 330,100 347.2,80 366.5,60 374.5,50 382,41 384.9,38.5 388.8,33.6 391.6,29.3 395.5,25.9 399.4,22.8 403.3,21.2 406,20.3 408.5,19.5 411,19.5 413.2,20.3 415.8,22.5 418.5,26 421.5,30 424,34.5 426,40 427.5,43 428.7,49 428.5,54.6 431.5,60.3 432.7,64.6 434.7,69.5 435.7,75.4 436.7,80.8 438.6,85.7 439.6,90.1 440.6,95.5 441.6,101.8 442.1,107.7" fill="none" stroke="#35a96c" stroke-width="2" stroke-linejoin="round"/>
<path d="M62.3 456.5l4.3 7.6l4.3 -7.6zM64.1 457.9l4.3 7.6l4.3 -7.6zM65 452.9l4.3 7.6l4.3 -7.6zM66.9 454.4l4.3 7.6l4.3 -7.6zM67.8 449.4l4.3 7.6l4.3 -7.6zM69.7 450.9l4.3 7.6l4.3 -7.6zM70.6 445.9l4.3 7.6l4.3 -7.6zM72.5 447.4l4.3 7.6l4.3 -7.6zM73.4 442.3l4.3 7.6l4.3 -7.6zM75.3 443.8l4.3 7.6l4.3 -7.6zM76.2 438.8l4.3 7.6l4.3 -7.6zM78.1 440.3l4.3 7.6l4.3 -7.6zM79 435.3l4.3 7.6l4.3 -7.6zM80.9 436.8l4.3 7.6l4.3 -7.6zM81.8 431.8l4.3 7.6l4.3 -7.6zM83.7 433.3l4.3 7.6l4.3 -7.6zM84.7 428.3l4.3 7.6l4.3 -7.6zM86.5 429.8l4.3 7.6l4.3 -7.6zM87.5 424.8l4.3 7.6l4.3 -7.6zM89.4 426.3l4.3 7.6l4.3 -7.6zM90.3 421.3l4.3 7.6l4.3 -7.6zM92.2 422.8l4.3 7.6l4.3 -7.6zM93.2 417.8l4.3 7.6l4.3 -7.6zM95.1 419.3l4.3 7.6l4.3 -7.6zM95.8 414.3l4.3 7.6l4.3 -7.6zM97.8 415.7l4.3 7.6l4.3 -7.6zM98.3 410.5l4.3 7.6l4.3 -7.6zM100.3 411.9l4.3 7.6l4.3 -7.6zM100.8 406.8l4.3 7.6l4.3 -7.6zM102.8 408.1l4.3 7.6l4.3 -7.6zM103.3 403.1l4.3 7.6l4.3 -7.6zM105.3 404.4l4.3 7.6l4.3 -7.6zM105.8 399.3l4.3 7.6l4.3 -7.6zM107.8 400.6l4.3 7.6l4.3 -7.6zM108.3 395.5l4.3 7.6l4.3 -7.6zM110.3 396.9l4.3 7.6l4.3 -7.6zM110.9 391.9l4.3 7.6l4.3 -7.6zM112.9 393.3l4.3 7.6l4.3 -7.6zM113.5 388.2l4.3 7.6l4.3 -7.6zM115.5 389.6l4.3 7.6l4.3 -7.6zM116.2 384.5l4.3 7.6l4.3 -7.6zM118.1 385.9l4.3 7.6l4.3 -7.6zM118.8 380.9l4.3 7.6l4.3 -7.6zM120.7 382.3l4.3 7.6l4.3 -7.6zM121.4 377.2l4.3 7.6l4.3 -7.6zM123.4 378.6l4.3 7.6l4.3 -7.6zM124 373.5l4.3 7.6l4.3 -7.6zM125.9 374.9l4.3 7.6l4.3 -7.6zM126.5 369.8l4.3 7.6l4.3 -7.6zM128.5 371.2l4.3 7.6l4.3 -7.6zM129.1 366.1l4.3 7.6l4.3 -7.6zM131.1 367.5l4.3 7.6l4.3 -7.6zM131.6 362.4l4.3 7.6l4.3 -7.6zM133.6 363.8l4.3 7.6l4.3 -7.6zM134.2 358.7l4.3 7.6l4.3 -7.6zM136.2 360.1l4.3 7.6l4.3 -7.6zM136.8 355l4.3 7.6l4.3 -7.6zM138.7 356.4l4.3 7.6l4.3 -7.6zM139.4 351.4l4.3 7.6l4.3 -7.6zM141.4 352.8l4.3 7.6l4.3 -7.6zM142.1 347.7l4.3 7.6l4.3 -7.6zM144 349.2l4.3 7.6l4.3 -7.6zM144.7 344.1l4.3 7.6l4.3 -7.6zM146.7 345.5l4.3 7.6l4.3 -7.6zM147.4 340.5l4.3 7.6l4.3 -7.6zM149.3 341.9l4.3 7.6l4.3 -7.6zM150 336.8l4.3 7.6l4.3 -7.6zM152 338.3l4.3 7.6l4.3 -7.6zM152.7 333.2l4.3 7.6l4.3 -7.6zM154.6 334.6l4.3 7.6l4.3 -7.6zM155.4 329.6l4.3 7.6l4.3 -7.6zM157.3 331l4.3 7.6l4.3 -7.6zM158 325.9l4.3 7.6l4.3 -7.6zM159.9 327.4l4.3 7.6l4.3 -7.6zM160.7 322.3l4.3 7.6l4.3 -7.6zM162.6 323.7l4.3 7.6l4.3 -7.6zM163.3 318.7l4.3 7.6l4.3 -7.6zM165.2 320.1l4.3 7.6l4.3 -7.6zM166 315l4.3 7.6l4.3 -7.6zM167.9 316.5l4.3 7.6l4.3 -7.6zM168.6 311.4l4.3 7.6l4.3 -7.6zM170.6 312.8l4.3 7.6l4.3 -7.6zM171.3 307.8l4.3 7.6l4.3 -7.6zM173.2 309.2l4.3 7.6l4.3 -7.6zM173.9 304.1l4.3 7.6l4.3 -7.6zM175.9 305.5l4.3 7.6l4.3 -7.6zM176.6 300.5l4.3 7.6l4.3 -7.6zM178.5 301.9l4.3 7.6l4.3 -7.6zM179.2 296.9l4.3 7.6l4.3 -7.6zM181.2 298.3l4.3 7.6l4.3 -7.6zM181.8 293.2l4.3 7.6l4.3 -7.6zM183.8 294.6l4.3 7.6l4.3 -7.6zM184.4 289.5l4.3 7.6l4.3 -7.6zM186.4 290.9l4.3 7.6l4.3 -7.6zM187 285.8l4.3 7.6l4.3 -7.6zM189 287.2l4.3 7.6l4.3 -7.6zM189.6 282.2l4.3 7.6l4.3 -7.6zM191.5 283.5l4.3 7.6l4.3 -7.6zM192.1 278.5l4.3 7.6l4.3 -7.6zM194.1 279.8l4.3 7.6l4.3 -7.6zM194.7 274.8l4.3 7.6l4.3 -7.6zM196.7 276.2l4.3 7.6l4.3 -7.6zM197.3 271.1l4.3 7.6l4.3 -7.6zM199.3 272.5l4.3 7.6l4.3 -7.6zM199.9 267.4l4.3 7.6l4.3 -7.6zM201.8 268.8l4.3 7.6l4.3 -7.6zM202.4 263.7l4.3 7.6l4.3 -7.6zM204.4 265.1l4.3 7.6l4.3 -7.6zM205 260l4.3 7.6l4.3 -7.6zM207 261.4l4.3 7.6l4.3 -7.6zM207.6 256.3l4.3 7.6l4.3 -7.6zM209.5 257.7l4.3 7.6l4.3 -7.6zM210.2 252.6l4.3 7.6l4.3 -7.6zM212.2 254.1l4.3 7.6l4.3 -7.6zM212.9 249l4.3 7.6l4.3 -7.6zM214.8 250.4l4.3 7.6l4.3 -7.6zM215.5 245.4l4.3 7.6l4.3 -7.6zM217.5 246.8l4.3 7.6l4.3 -7.6zM218.2 241.7l4.3 7.6l4.3 -7.6zM220.1 243.1l4.3 7.6l4.3 -7.6zM220.8 238.1l4.3 7.6l4.3 -7.6zM222.8 239.5l4.3 7.6l4.3 -7.6zM223.5 234.5l4.3 7.6l4.3 -7.6zM225.4 235.9l4.3 7.6l4.3 -7.6zM226.2 230.9l4.3 7.6l4.3 -7.6zM228.1 232.3l4.3 7.6l4.3 -7.6zM228.9 227.3l4.3 7.6l4.3 -7.6zM230.8 228.7l4.3 7.6l4.3 -7.6zM231.6 223.7l4.3 7.6l4.3 -7.6zM233.5 225.1l4.3 7.6l4.3 -7.6zM234.3 220.1l4.3 7.6l4.3 -7.6zM236.2 221.5l4.3 7.6l4.3 -7.6zM237 216.5l4.3 7.6l4.3 -7.6zM238.9 217.9l4.3 7.6l4.3 -7.6zM239.7 212.8l4.3 7.6l4.3 -7.6zM241.6 214.3l4.3 7.6l4.3 -7.6zM242.3 209.2l4.3 7.6l4.3 -7.6zM244.2 210.6l4.3 7.6l4.3 -7.6zM244.9 205.6l4.3 7.6l4.3 -7.6zM246.9 207l4.3 7.6l4.3 -7.6zM247.6 201.9l4.3 7.6l4.3 -7.6zM249.5 203.3l4.3 7.6l4.3 -7.6zM250.2 198.3l4.3 7.6l4.3 -7.6zM252.2 199.7l4.3 7.6l4.3 -7.6zM252.9 194.6l4.3 7.6l4.3 -7.6zM254.8 196l4.3 7.6l4.3 -7.6zM255.5 191l4.3 7.6l4.3 -7.6zM257.4 192.4l4.3 7.6l4.3 -7.6zM258.1 187.3l4.3 7.6l4.3 -7.6zM260.1 188.8l4.3 7.6l4.3 -7.6zM260.8 183.7l4.3 7.6l4.3 -7.6zM262.7 185.1l4.3 7.6l4.3 -7.6zM263.4 180.1l4.3 7.6l4.3 -7.6zM265.4 181.5l4.3 7.6l4.3 -7.6zM266.1 176.4l4.3 7.6l4.3 -7.6zM268 177.8l4.3 7.6l4.3 -7.6zM268.6 172.8l4.3 7.6l4.3 -7.6zM270.6 174.1l4.3 7.6l4.3 -7.6zM271.2 169.1l4.3 7.6l4.3 -7.6zM273.2 170.4l4.3 7.6l4.3 -7.6zM273.8 165.4l4.3 7.6l4.3 -7.6zM275.8 166.8l4.3 7.6l4.3 -7.6zM276.4 161.7l4.3 7.6l4.3 -7.6zM278.4 163.1l4.3 7.6l4.3 -7.6zM279 158l4.3 7.6l4.3 -7.6zM280.9 159.4l4.3 7.6l4.3 -7.6zM281.6 154.3l4.3 7.6l4.3 -7.6zM283.5 155.7l4.3 7.6l4.3 -7.6zM284.2 150.7l4.3 7.6l4.3 -7.6zM286.1 152l4.3 7.6l4.3 -7.6zM286.8 147l4.3 7.6l4.3 -7.6zM288.7 148.4l4.3 7.6l4.3 -7.6zM289.4 143.3l4.3 7.6l4.3 -7.6zM291.3 144.7l4.3 7.6l4.3 -7.6zM292 139.6l4.3 7.6l4.3 -7.6zM293.9 141l4.3 7.6l4.3 -7.6zM294.6 136l4.3 7.6l4.3 -7.6zM296.5 137.4l4.3 7.6l4.3 -7.6zM297.3 132.3l4.3 7.6l4.3 -7.6zM299.2 133.8l4.3 7.6l4.3 -7.6zM299.9 128.7l4.3 7.6l4.3 -7.6zM301.9 130.1l4.3 7.6l4.3 -7.6zM302.6 125.1l4.3 7.6l4.3 -7.6zM304.6 126.5l4.3 7.6l4.3 -7.6zM305.3 121.5l4.3 7.6l4.3 -7.6zM307.2 122.9l4.3 7.6l4.3 -7.6zM308 117.9l4.3 7.6l4.3 -7.6zM309.9 119.3l4.3 7.6l4.3 -7.6zM310.7 114.2l4.3 7.6l4.3 -7.6zM312.6 115.7l4.3 7.6l4.3 -7.6zM313.4 110.6l4.3 7.6l4.3 -7.6zM315.3 112.1l4.3 7.6l4.3 -7.6zM316.1 107l4.3 7.6l4.3 -7.6zM318 108.5l4.3 7.6l4.3 -7.6zM318.8 103.4l4.3 7.6l4.3 -7.6zM320.7 104.9l4.3 7.6l4.3 -7.6zM321.5 99.8l4.3 7.6l4.3 -7.6zM323.4 101.3l4.3 7.6l4.3 -7.6zM324.2 96.2l4.3 7.6l4.3 -7.6zM326.1 97.7l4.3 7.6l4.3 -7.6zM327.1 92.7l4.3 7.6l4.3 -7.6zM328.9 94.3l4.3 7.6l4.3 -7.6zM330 89.3l4.3 7.6l4.3 -7.6zM331.9 90.9l4.3 7.6l4.3 -7.6zM333 85.9l4.3 7.6l4.3 -7.6zM334.8 87.5l4.3 7.6l4.3 -7.6zM335.9 82.5l4.3 7.6l4.3 -7.6zM337.7 84.1l4.3 7.6l4.3 -7.6zM338.8 79.1l4.3 7.6l4.3 -7.6zM340.7 80.6l4.3 7.6l4.3 -7.6zM341.8 75.6l4.3 7.6l4.3 -7.6zM343.6 77.3l4.3 7.6l4.3 -7.6zM344.9 72.4l4.3 7.6l4.3 -7.6zM346.7 74l4.3 7.6l4.3 -7.6zM348.1 69.1l4.3 7.6l4.3 -7.6zM349.8 70.8l4.3 7.6l4.3 -7.6zM351.2 65.9l4.3 7.6l4.3 -7.6zM352.9 67.6l4.3 7.6l4.3 -7.6zM354.3 62.7l4.3 7.6l4.3 -7.6zM356 64.3l4.3 7.6l4.3 -7.6zM357.4 59.4l4.3 7.6l4.3 -7.6zM359.2 61.1l4.3 7.6l4.3 -7.6zM360.5 56.2l4.3 7.6l4.3 -7.6zM362.3 57.8l4.3 7.6l4.3 -7.6zM363.4 52.8l4.3 7.6l4.3 -7.6zM365.2 54.3l4.3 7.6l4.3 -7.6zM366.2 49.3l4.3 7.6l4.3 -7.6zM368.1 50.8l4.3 7.6l4.3 -7.6zM369 45.8l4.3 7.6l4.3 -7.6zM370.9 47.3l4.3 7.6l4.3 -7.6zM371.9 42.3l4.3 7.6l4.3 -7.6zM373.7 43.8l4.3 7.6l4.3 -7.6zM374.8 38.8l4.3 7.6l4.3 -7.6zM376.6 40.4l4.3 7.6l4.3 -7.6zM377.9 35.5l4.3 7.6l4.3 -7.6zM379.6 37.1l4.3 7.6l4.3 -7.6zM381 32.3l4.3 7.6l4.3 -7.6zM382.8 33.9l4.3 7.6l4.3 -7.6zM383.7 28.9l4.3 7.6l4.3 -7.6zM385.6 30.3l4.3 7.6l4.3 -7.6zM386.2 25l4.3 7.6l4.3 -7.6zM388 26.6l4.3 7.6l4.3 -7.6zM389.6 21.9l4.3 7.6l4.3 -7.6zM391.2 23.7l4.3 7.6l4.3 -7.6zM393.2 19l4.3 7.6l4.3 -7.6zM394.6 21l4.3 7.6l4.3 -7.6zM397.4 16.8l4.3 7.6l4.3 -7.6zM398.3 19l4.3 7.6l4.3 -7.6zM401.7 15.2l4.3 7.6l4.3 -7.6zM402.5 17.5l4.3 7.6l4.3 -7.6zM403.8 14.6l4.3 7.6l4.3 -7.6zM404.6 16.8l4.3 7.6l4.3 -7.6zM404.2 15.7l4.3 7.6l4.3 -7.6zM409.4 16.9l4.3 7.6l4.3 -7.6zM413.2 20.9l4.3 7.6l4.3 -7.6zM416.5 25.3l4.3 7.6l4.3 -7.6zM419.3 30l4.3 7.6l4.3 -7.6zM421.3 35.1l4.3 7.6l4.3 -7.6zM423.4 40.2l4.3 7.6l4.3 -7.6zM424.4 45.6l4.3 7.6l4.3 -7.6zM424.3 51l4.3 7.6l4.3 -7.6zM426.9 55.9l4.3 7.6l4.3 -7.6zM428.5 61.1l4.3 7.6l4.3 -7.6zM430.5 66.3l4.3 7.6l4.3 -7.6zM431.4 71.7l4.3 7.6l4.3 -7.6zM432.4 77.1l4.3 7.6l4.3 -7.6zM434.4 82.2l4.3 7.6l4.3 -7.6zM435.5 87.6l4.3 7.6l4.3 -7.6zM436.5 93l4.3 7.6l4.3 -7.6zM437.3 98.4l4.3 7.6l4.3 -7.6zM437.8 103.9l4.3 7.6l4.3 -7.6z" fill="#35a96c"/>
<g font-family="'Liberation Serif','Times New Roman',serif" font-size="24" fill="#000">
<text x="53" y="475.6" text-anchor="end">0</text>
<text x="53" y="410.5" text-anchor="end">10</text>
<text x="53" y="345.4" text-anchor="end">20</text>
<text x="53" y="280.3" text-anchor="end">30</text>
<text x="53" y="215.3" text-anchor="end">40</text>
<text x="53" y="150.2" text-anchor="end">50</text>
<text x="53" y="85.1" text-anchor="end">60</text>
<text x="53" y="20" text-anchor="end">70</text>
<text x="63.1" y="497" text-anchor="middle">0.0</text>
<text x="204.5" y="497" text-anchor="middle">0.2</text>
<text x="345.9" y="497" text-anchor="middle">0.4</text>
<text x="487.4" y="497" text-anchor="middle">0.6</text>
<text x="628.8" y="497" text-anchor="middle">0.8</text>
<text x="347" y="523" text-anchor="middle">Axial strain /%</text>
<text transform="translate(22,240) rotate(-90)" text-anchor="middle">UCS /MPa</text>
<line x1="83" y1="36.5" x2="137" y2="36.5" stroke="#4b4b4b" stroke-width="2"/>
<rect x="107" y="33.5" width="6" height="6" fill="#4b4b4b"/>
<text x="143" y="44">β=15°</text>
<line x1="83" y1="65.7" x2="137" y2="65.7" stroke="#ef3e42" stroke-width="2"/>
<circle cx="110" cy="65.7" r="3.3" fill="#ef3e42"/>
<text x="143" y="73.2">β=30°</text>
<line x1="83" y1="95" x2="137" y2="95" stroke="#186ddd" stroke-width="2"/>
<path d="M106 98.5l4 -7l4 7z" fill="#186ddd"/>
<text x="143" y="102.5">β=45°</text>
<line x1="83" y1="123.9" x2="137" y2="123.9" stroke="#35a96c" stroke-width="2"/>
<path d="M106 120.4l4 7l4 -7z" fill="#35a96c"/>
<text x="143" y="131.4">β=60°</text>
</g>
</svg>
</body></html>
